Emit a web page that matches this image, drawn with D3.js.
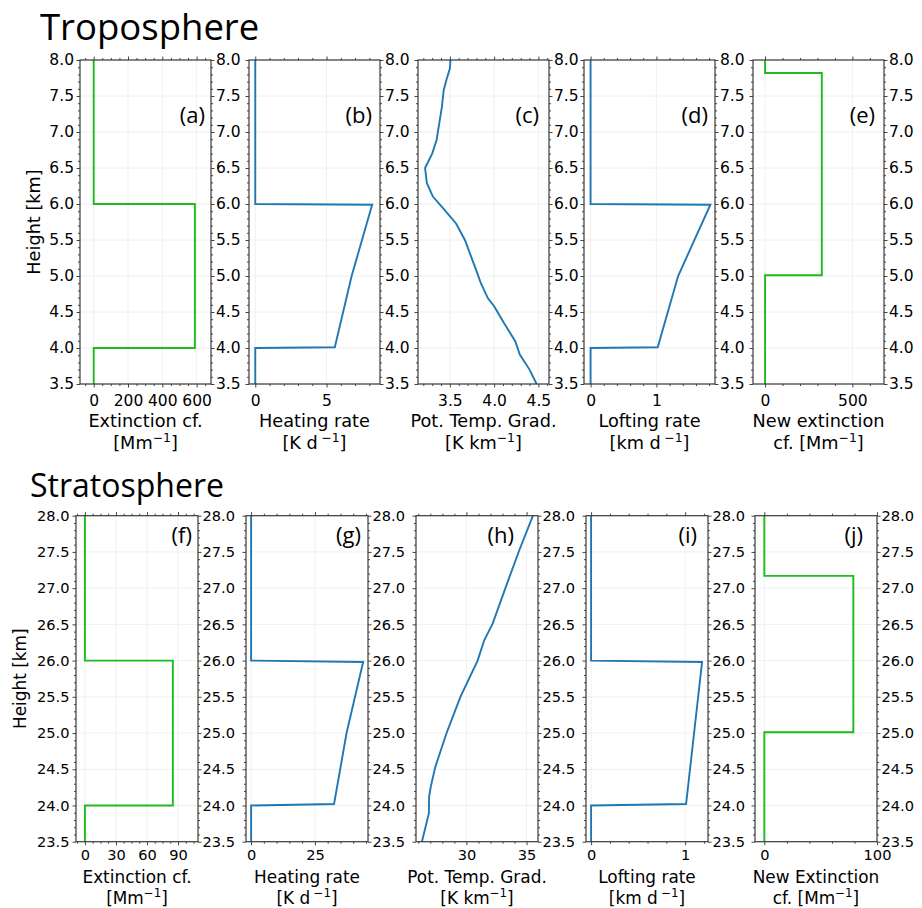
<!DOCTYPE html>
<html><head><meta charset="utf-8">
<script src="https://cdn.jsdelivr.net/npm/d3@7"></script>
<style>body{margin:0;background:#fff}</style>
</head><body>
<svg id="chart" width="922" height="908" xmlns="http://www.w3.org/2000/svg"></svg>
<script>
// ---------------- DATA ----------------
// Troposphere (heights in km)
const extA_h   = [3.5, 4.0, 4.0, 6.0, 6.0, 8.0];
const extA     = [0, 0, 590, 590, 0, 0];
const heatB_h  = [3.5, 4.0, 4.01, 5.0, 5.99, 6.0, 8.0];
const heatB    = [0, 0, 5.58, 6.76, 8.2, 0, 0];
const gradC_h  = [3.5, 3.7, 3.91, 4.09, 4.35, 4.58, 4.69, 4.9, 5.04, 5.27, 5.5, 5.73, 5.96, 6.1, 6.29, 6.5, 6.7, 6.89, 7.12, 7.35, 7.58, 7.72, 7.88, 8.0];
const gradC    = [4.48, 4.40, 4.29, 4.24, 4.11, 4.0, 3.93, 3.85, 3.81, 3.74, 3.67, 3.57, 3.41, 3.31, 3.24, 3.22, 3.30, 3.35, 3.38, 3.41, 3.43, 3.46, 3.50, 3.507];
const loftD_h  = [3.5, 4.0, 4.01, 5.0, 5.99, 6.0, 8.0];
const loftD    = [0, 0, 1.02, 1.33, 1.82, 0, 0];
const newExtE_h = [3.5, 5.01, 5.01, 7.82, 7.82, 8.0];
const newExtE   = [0, 0, 325, 325, 0, 0];

// Stratosphere (heights in km)
const extF_h   = [23.5, 24.0, 24.0, 26.0, 26.0, 28.0];
const extF     = [0, 0, 85, 85, 0, 0];
const heatG_h  = [23.5, 24.0, 24.02, 25.0, 25.98, 26.0, 28.0];
const heatG    = [0, 0, 32.5, 37.4, 43.9, 0, 0];
const gradH_h  = [23.5, 23.89, 24.12, 24.26, 24.53, 24.99, 25.5, 26.0, 26.28, 26.51, 27.0, 27.53, 28.0];
const gradH    = [26.3, 26.88, 26.9, 27.04, 27.41, 28.33, 29.5, 30.93, 31.48, 32.18, 33.24, 34.41, 35.53];
const loftI_h  = [23.5, 24.0, 24.02, 25.98, 26.0, 28.0];
const loftI    = [0, 0, 1.01, 1.18, 0, 0];
const newExtJ_h = [23.5, 25.01, 25.01, 27.17, 27.17, 28.0];
const newExtJ   = [0, 0, 79, 79, 0, 0];

// Tick labels
const yTicksTropo = [3.5, 4.0, 4.5, 5.0, 5.5, 6.0, 6.5, 7.0, 7.5, 8.0];
const yTicksStrat = [23.5, 24.0, 24.5, 25.0, 25.5, 26.0, 26.5, 27.0, 27.5, 28.0];
const xTicksA = [0, 200, 400, 600];
const xTicksB = [0, 5];
const xTicksC = [3.5, 4.0, 4.5];
const xTicksD = [0, 1];
const xTicksE = [0, 500];
const xTicksF = [0, 30, 60, 90];
const xTicksG = [0, 25];
const xTicksH = [30, 35];
const xTicksI = [0, 1];
const xTicksJ = [0, 100];

const panelLetters = ["(a)", "(b)", "(c)", "(d)", "(e)", "(f)", "(g)", "(h)", "(i)", "(j)"];
const rowTitles = ["Troposphere", "Stratosphere"];

// ---------------- STYLE / LAYOUT ----------------
const GREEN = "#1dbb1d";
const BLUE = "#1f77b4";
const FONT = "'DejaVu Sans', sans-serif";
const LETTER_FONT = "'Open Sans', sans-serif";

const svg = d3.select("#chart");

const rows = [
  { top: 60, height: 324, lefts: [80, 249, 418, 584, 753], width: 131,
    tickFs: 15.5, labFs: 17.7, tickBase: 22, lab1Base: 43, lab2Base: 65,
    yDomain: [3.5, 8.0], yTicks: yTicksTropo, heightX: 40, yRightPad: 1.5, yLeftPad: 2.5,
    letterBase: 63, titleX: 40, titleY: 40, titleFs: 36.5 },
  { top: 515.7, height: 326, lefts: [76, 246, 416, 586, 755], width: 122,
    tickFs: 14.6, labFs: 16.9, tickBase: 18.5, lab1Base: 41.5, lab2Base: 62.5,
    yDomain: [23.5, 28.0], yTicks: yTicksStrat, heightX: 25.5, yRightPad: 1.0, yLeftPad: 3,
    letterBase: 27.5, titleX: 30, titleY: 497, titleFs: 32 }
];

const panels = [
  { row: 0, col: 0, h: extA_h, v: extA, color: GREEN, xDomain: [-80, 684], xTicks: xTicksA, minor: 50, fmt: d3.format("d"),
    lab1: "Extinction cf.", lab2: [["[Mm"], ["−1", 1], ["]"]], letterOff: 6 },
  { row: 0, col: 1, h: heatB_h, v: heatB, color: BLUE, xDomain: [-0.44, 8.75], xTicks: xTicksB, minor: 1, fmt: d3.format("d"),
    lab1: "Heating rate", lab2: [["[K d\u2009"], ["−1", 1], ["]"]], letterOff: 8 },
  { row: 0, col: 2, h: gradC_h, v: gradC, color: BLUE, xDomain: [3.14, 4.62], xTicks: xTicksC, minor: 0.1, fmt: d3.format(".1f"),
    lab1: "Pot. Temp. Grad.", lab2: [["[K km"], ["−1", 1], ["]"]], letterOff: 10 },
  { row: 0, col: 3, h: loftD_h, v: loftD, color: BLUE, xDomain: [-0.10, 1.89], xTicks: xTicksD, minor: 0.2, fmt: d3.format("d"),
    lab1: "Lofting rate", lab2: [["[km d\u2009"], ["−1", 1], ["]"]], letterOff: 7 },
  { row: 0, col: 4, h: newExtE_h, v: newExtE, color: GREEN, xDomain: [-69, 681], xTicks: xTicksE, minor: 100, fmt: d3.format("d"),
    lab1: "New extinction", lab2: [["cf. [Mm"], ["−1", 1], ["]"]], letterOff: 9 },
  { row: 1, col: 0, h: extF_h, v: extF, color: GREEN, xDomain: [-8.6, 109.3], xTicks: xTicksF, minor: 7.5, fmt: d3.format("d"),
    lab1: "Extinction cf.", lab2: [["[Mm"], ["−1", 1], ["]"]], letterOff: 6 },
  { row: 1, col: 1, h: heatG_h, v: heatG, color: BLUE, xDomain: [-2, 45.8], xTicks: xTicksG, minor: 5, fmt: d3.format("d"),
    lab1: "Heating rate", lab2: [["[K d\u2009"], ["−1", 1], ["]"]], letterOff: 7 },
  { row: 1, col: 2, h: gradH_h, v: gradH, color: BLUE, xDomain: [25.81, 35.95], xTicks: xTicksH, minor: 1, fmt: d3.format("d"),
    lab1: "Pot. Temp. Grad.", lab2: [["[K km"], ["−1", 1], ["]"]], letterOff: 24 },
  { row: 1, col: 3, h: loftI_h, v: loftI, color: BLUE, xDomain: [-0.054, 1.243], xTicks: xTicksI, minor: 0.2, fmt: d3.format("d"),
    lab1: "Lofting rate", lab2: [["[km d\u2009"], ["−1", 1], ["]"]], letterOff: 11 },
  { row: 1, col: 4, h: newExtJ_h, v: newExtJ, color: GREEN, xDomain: [-8.3, 100], xTicks: xTicksJ, minor: 20, fmt: d3.format("d"),
    lab1: "New Extinction", lab2: [["cf. [Mm"], ["−1", 1], ["]"]], letterOff: 14 }
];

function minorTicks(domain, step, majors) {
  const out = [];
  const start = Math.ceil(domain[0] / step - 1e-9);
  const end = Math.floor(domain[1] / step + 1e-9);
  for (let i = start; i <= end; i++) {
    const v = +(i * step).toFixed(6);
    if (!majors.some(m => Math.abs(m - v) < 1e-6)) out.push(v);
  }
  return out;
}

function styleAxis(sel, fs) {
  sel.select(".domain").remove();
  sel.selectAll(".tick line").attr("stroke", "#444").attr("stroke-width", 1);
  sel.selectAll(".tick text").attr("fill", "#000").style("font-family", FONT).style("font-size", fs + "px");
}

rows.forEach((r, ri) => {
  svg.append("text").attr("x", r.titleX).attr("y", r.titleY)
    .style("font-family", LETTER_FONT).style("font-size", r.titleFs + "px").attr("fill", "#000")
    .text(rowTitles[ri]);
  const cy = r.top + r.height / 2;
  svg.append("text")
    .attr("transform", `translate(${r.heightX},${cy}) rotate(-90)`)
    .attr("text-anchor", "middle")
    .style("font-family", FONT).style("font-size", r.labFs + "px")
    .text("Height [km]");
});

panels.forEach((p, pi) => {
  const r = rows[p.row];
  const left = r.lefts[p.col], top = r.top, W = r.width, H = r.height;
  const g = svg.append("g").attr("transform", `translate(${left},${top})`);
  const x = d3.scaleLinear().domain(p.xDomain).range([0, W]);
  const y = d3.scaleLinear().domain(r.yDomain).range([H, 0]);
  const yMinor = minorTicks(r.yDomain, 0.1, r.yTicks);
  const xMinor = minorTicks(p.xDomain, p.minor, p.xTicks);

  // grid
  g.append("g").selectAll("line").data(p.xTicks).join("line")
    .attr("x1", d => x(d)).attr("x2", d => x(d)).attr("y1", 0).attr("y2", H)
    .attr("stroke", "#ececec").attr("stroke-width", 0.8);
  g.append("g").selectAll("line").data(r.yTicks).join("line")
    .attr("x1", 0).attr("x2", W).attr("y1", d => y(d)).attr("y2", d => y(d))
    .attr("stroke", "#ececec").attr("stroke-width", 0.8);

  // x axes
  const bottomMajor = d3.axisBottom(x).tickValues(p.xTicks).tickFormat(p.fmt).tickSize(3.5)
    .tickPadding(r.tickBase - 3.5 - r.tickFs * 0.71);
  g.append("g").attr("transform", `translate(0,${H})`).call(bottomMajor).call(s => styleAxis(s, r.tickFs));
  g.append("g").attr("transform", `translate(0,${H})`).call(d3.axisBottom(x).tickValues(xMinor).tickFormat("").tickSize(2)).call(s => styleAxis(s, r.tickFs));
  g.append("g").call(d3.axisTop(x).tickValues(p.xTicks).tickFormat("").tickSize(3.5)).call(s => styleAxis(s, r.tickFs));
  g.append("g").call(d3.axisTop(x).tickValues(xMinor).tickFormat("").tickSize(2)).call(s => styleAxis(s, r.tickFs));

  // y axes
  const leftMajor = d3.axisLeft(y).tickValues(r.yTicks).tickSize(3.5).tickPadding(r.yLeftPad)
    .tickFormat(p.col === 0 ? d3.format(".1f") : "");
  g.append("g").call(leftMajor).call(s => styleAxis(s, r.tickFs));
  g.append("g").call(d3.axisLeft(y).tickValues(yMinor).tickFormat("").tickSize(2)).call(s => styleAxis(s, r.tickFs));
  g.append("g").attr("transform", `translate(${W},0)`)
    .call(d3.axisRight(y).tickValues(r.yTicks).tickSize(3.5).tickPadding(r.yRightPad).tickFormat(d3.format(".1f")))
    .call(s => styleAxis(s, r.tickFs));
  g.append("g").attr("transform", `translate(${W},0)`)
    .call(d3.axisRight(y).tickValues(yMinor).tickFormat("").tickSize(2)).call(s => styleAxis(s, r.tickFs));

  // data line
  const pts = p.h.map((hh, i) => [p.v[i], hh]);
  const line = d3.line().x(d => x(d[0])).y(d => y(d[1]));
  g.append("path").datum(pts).attr("d", line)
    .attr("fill", "none").attr("stroke", p.color).attr("stroke-width", 1.9)
    .attr("stroke-linejoin", "miter");

  // frame
  g.append("rect").attr("x", 0).attr("y", 0).attr("width", W).attr("height", H)
    .attr("fill", "none").attr("stroke", "#3a3a3a").attr("stroke-width", 1.2);

  // panel letter
  g.append("text").attr("x", W - p.letterOff).attr("y", r.letterBase)
    .attr("text-anchor", "end").style("font-family", LETTER_FONT).style("font-size", "22px")
    .text(panelLetters[pi]);

  // x labels
  const cx = W / 2;
  g.append("text").attr("x", cx).attr("y", H + r.lab1Base).attr("text-anchor", "middle")
    .style("font-family", FONT).style("font-size", r.labFs + "px").text(p.lab1);
  const t2 = g.append("text").attr("x", cx).attr("y", H + r.lab2Base).attr("text-anchor", "middle")
    .style("font-family", FONT).style("font-size", r.labFs + "px");
  p.lab2.forEach(seg => {
    if (seg[1]) {
      t2.append("tspan").attr("font-size", (r.labFs * 0.7) + "px").attr("dy", -r.labFs * 0.42).text(seg[0]);
    } else {
      const ts = t2.append("tspan").text(seg[0]);
      if (seg[0] === "]") ts.attr("dy", r.labFs * 0.42);
    }
  });
});
</script></body></html>
